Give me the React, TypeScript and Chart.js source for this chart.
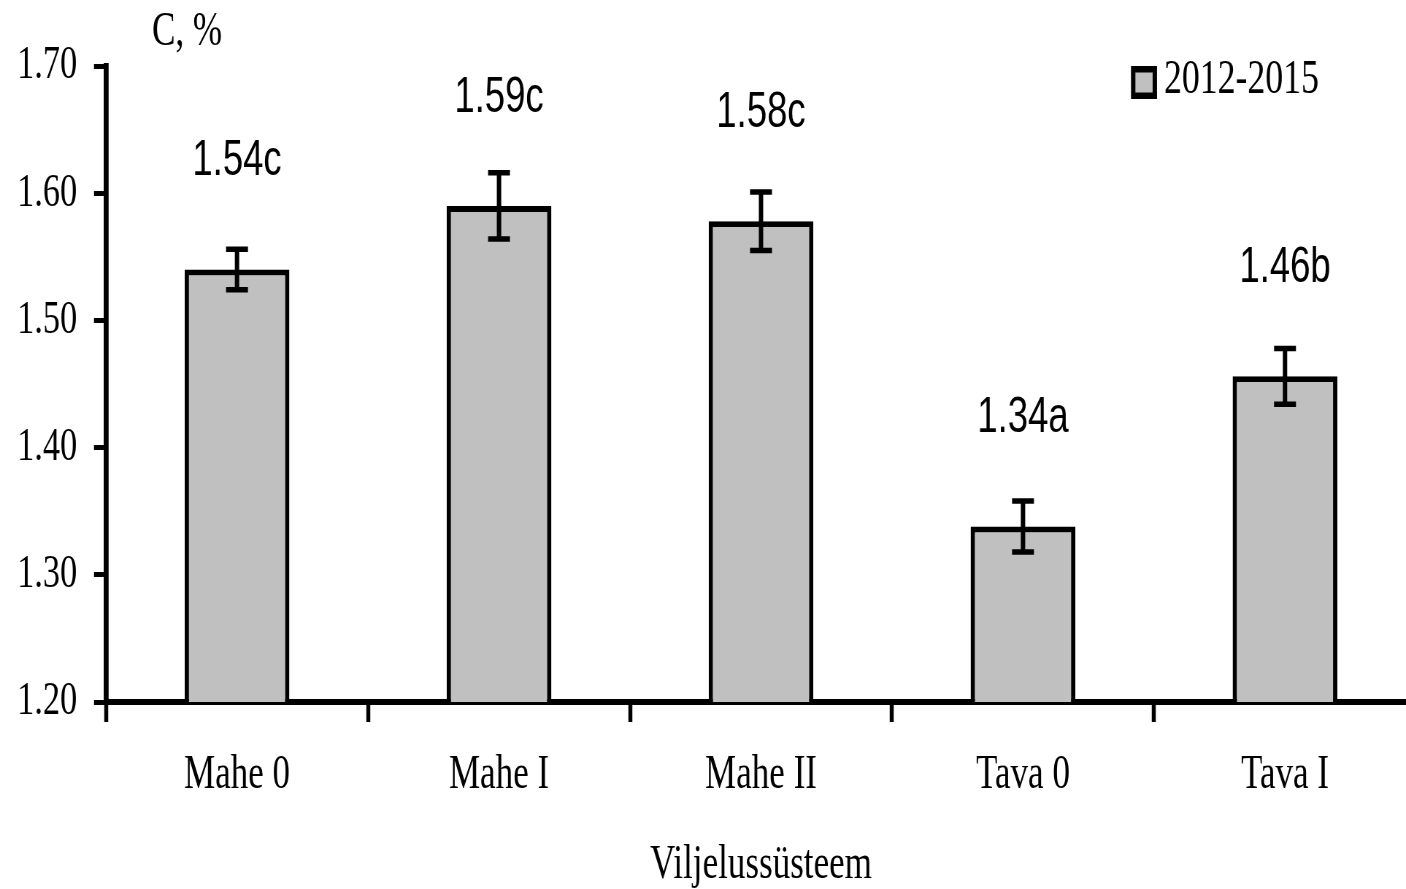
import React, { useEffect, useRef } from 'react';
import { Chart, registerables } from 'chart.js';

Chart.register(...registerables);

// ---- data ----
const categories = ['Mahe 0', 'Mahe I', 'Mahe II', 'Tava 0', 'Tava I'];
const values = [1.54, 1.59, 1.578, 1.338, 1.456];
const errors = [0.016, 0.026, 0.023, 0.02, 0.022];
const valueLabels = ['1.54c', '1.59c', '1.58c', '1.34a', '1.46b'];
const seriesLabel = '2012-2015';
const yTicks = [1.2, 1.3, 1.4, 1.5, 1.6, 1.7];
const yTitle = 'C, %';
const xTitle = 'Viljelussüsteem';

// ---- layout (the original image is horizontally condensed) ----
const SX = 0.73;
const W = 1945;
const H = 889;
const SERIF = '"Liberation Serif", "Times New Roman", serif';
const SANS = '"Liberation Sans", Arial, sans-serif';
const GRAY = '#c0c0c0';

const overlay = {
  id: 'overlay',
  afterDraw(chart: any) {
    const ctx = chart.ctx;
    const meta = chart.getDatasetMeta(0);
    const ys = chart.scales.y;
    ctx.save();
    ctx.strokeStyle = '#000';
    ctx.fillStyle = '#000';
    meta.data.forEach((bar: any, i: number) => {
      const x = bar.x;
      const top = ys.getPixelForValue(values[i] + errors[i]);
      const bot = ys.getPixelForValue(values[i] - errors[i]);
      ctx.lineWidth = 6;
      ctx.beginPath();
      ctx.moveTo(x, top);
      ctx.lineTo(x, bot);
      ctx.stroke();
      ctx.lineWidth = 5.5;
      ctx.beginPath();
      ctx.moveTo(x - 15, top);
      ctx.lineTo(x + 15, top);
      ctx.moveTo(x - 15, bot);
      ctx.lineTo(x + 15, bot);
      ctx.stroke();
      ctx.font = `50px ${SANS}`;
      ctx.textAlign = 'center';
      ctx.textBaseline = 'middle';
      ctx.fillText(valueLabels[i], x, bar.y - 108);
    });
    // y axis title
    ctx.font = `48px ${SERIF}`;
    ctx.textAlign = 'left';
    ctx.textBaseline = 'alphabetic';
    ctx.fillText(yTitle, 152 / SX, 45);
    // legend
    const bx = 1131 / SX;
    const bw = 26 / SX;
    const by = 66;
    const bh = 33;
    ctx.fillStyle = '#000';
    ctx.fillRect(bx, by, bw, bh);
    ctx.fillStyle = GRAY;
    ctx.fillRect(bx + 6, by + 6.5, bw - 12, bh - 13);
    ctx.fillStyle = '#000';
    ctx.font = `49px ${SERIF}`;
    ctx.textBaseline = 'middle';
    ctx.fillText(chart.data.datasets[0].label, 1164 / SX, 80);
    ctx.restore();
  },
};

export default function App() {
  const ref = useRef<HTMLCanvasElement>(null);
  useEffect(() => {
    if (!ref.current) return;
    const chart = new Chart(ref.current, {
      type: 'bar',
      data: {
        labels: categories,
        datasets: [
          {
            label: seriesLabel,
            data: values,
            backgroundColor: GRAY,
            borderColor: '#000',
            borderWidth: 6,
            borderSkipped: 'bottom',
            barPercentage: 0.4,
            categoryPercentage: 1,
          },
        ],
      },
      options: {
        animation: false,
        responsive: false,
        devicePixelRatio: 1,
        layout: { padding: { top: 66, left: 0, right: W - 1416 / SX, bottom: 0 } },
        plugins: { legend: { display: false }, tooltip: { enabled: false } },
        scales: {
          x: {
            z: 1,
            grid: {
              offset: true,
              drawOnChartArea: false,
              drawTicks: true,
              tickLength: 20,
              tickWidth: 5.5,
              tickColor: '#000',
            },
            border: { display: true, color: '#000', width: 6 },
            ticks: {
              color: '#000',
              padding: 25,
              maxRotation: 0,
              font: { family: SERIF, size: 48 },
            },
            title: {
              display: true,
              text: xTitle,
              color: '#000',
              font: { family: SERIF, size: 48, lineHeight: 1 },
              padding: { top: 0, bottom: 0 },
            },
            afterFit: (s: any) => {
              s.height = H - 702;
            },
          },
          y: {
            min: 1.2,
            max: 1.7,
            grid: {
              drawOnChartArea: false,
              drawTicks: true,
              tickLength: 12 / SX,
              tickWidth: 5,
              tickColor: '#000',
            },
            border: { display: true, color: '#000', width: 6.8 },
            ticks: {
              color: '#000',
              padding: 23,
              font: { family: SERIF, size: 47 },
              callback: (v: any) => Number(v).toFixed(2),
            },
            afterBuildTicks: (s: any) => {
              s.ticks = yTicks.map((v) => ({ value: v }));
            },
            afterFit: (s: any) => {
              s.width = 106 / SX;
            },
          },
        },
      },
      plugins: [overlay],
    });
    return () => chart.destroy();
  }, []);

  return (
    <div
      style={{
        position: 'fixed',
        left: 0,
        top: 0,
        width: 1406,
        height: H,
        overflow: 'hidden',
        background: '#fff',
      }}
    >
      <div style={{ transform: `scaleX(${SX})`, transformOrigin: '0 0', width: W, height: H }}>
        <canvas
          ref={ref}
          width={W}
          height={H}
          style={{ display: 'block', width: `${W}px`, height: `${H}px` }}
        />
      </div>
    </div>
  );
}
